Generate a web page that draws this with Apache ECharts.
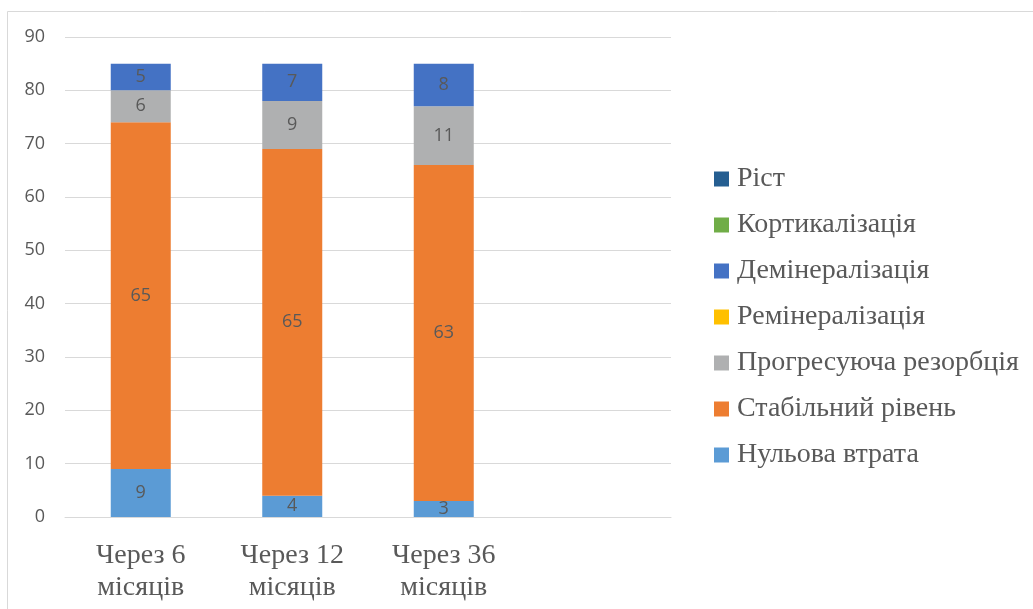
<!DOCTYPE html>
<html>
<head>
<meta charset="utf-8">
<script src="https://cdn.jsdelivr.net/npm/echarts@6/dist/echarts.min.js"></script>
<style>html,body{margin:0;padding:0;background:#fff;}#c{width:1033px;height:609px;}</style>
</head>
<body>
<div id="c"></div>
<script>
const categories = ['Через 6\nмісяців', 'Через 12\nмісяців', 'Через 36\nмісяців', ''];
const yTicks = [0, 10, 20, 30, 40, 50, 60, 70, 80, 90];
const nulova = [9, 4, 3, null];
const stabilnyi = [65, 65, 63, null];
const progresuyucha = [6, 9, 11, null];
const remineralizatsiya = [null, null, null, null];
const demineralizatsiya = [5, 7, 8, null];
const kortykalizatsiya = [null, null, null, null];
const rist = [null, null, null, null];

const seriesDefs = [
  { name: 'Нульова втрата', data: nulova, color: '#5B9BD5' },
  { name: 'Стабільний рівень', data: stabilnyi, color: '#ED7D31' },
  { name: 'Прогресуюча резорбція', data: progresuyucha, color: '#AFB0B1' },
  { name: 'Ремінералізація', data: remineralizatsiya, color: '#FFC000' },
  { name: 'Демінералізація', data: demineralizatsiya, color: '#4472C4' },
  { name: 'Кортикалізація', data: kortykalizatsiya, color: '#70AD47' },
  { name: 'Ріст', data: rist, color: '#255E91' }
];

const chart = echarts.init(document.getElementById('c'), null, { renderer: 'canvas' });
chart.setOption({
  animation: false,
  backgroundColor: '#fff',
  graphic: [{
    type: 'rect', silent: true, z: -1,
    shape: { x: 7.5, y: 11.5, width: 1100, height: 700 },
    style: { fill: 'none', stroke: '#D9D9D9', lineWidth: 1 }
  }],
  grid: { left: 65, right: 1033 - 671, top: 37, bottom: 92, containLabel: false },
  legend: {
    orient: 'vertical',
    left: 709,
    top: 160,
    itemWidth: 15,
    itemHeight: 15,
    itemGap: 18,
    icon: 'rect',
    data: seriesDefs.map(s => s.name).reverse(),
    textStyle: { fontFamily: 'Liberation Serif', fontSize: 28, color: '#595959', lineHeight: 28, padding: [0, 0, 0, 3] }
  },
  xAxis: {
    type: 'category',
    data: categories,
    axisLine: { lineStyle: { color: '#D9D9D9', width: 1 } },
    axisTick: { show: false },
    axisLabel: { fontFamily: 'Liberation Serif', fontSize: 28, color: '#595959', lineHeight: 32, margin: 23, interval: 0 }
  },
  yAxis: {
    type: 'value',
    min: yTicks[0],
    max: yTicks[yTicks.length - 1],
    interval: 10,
    axisLine: { show: false },
    axisTick: { show: false },
    splitLine: { lineStyle: { color: '#D9D9D9', width: 1 } },
    axisLabel: { fontFamily: 'Open Sans', fontSize: 18, color: '#595959', margin: 20 }
  },
  series: seriesDefs.map(s => ({
    name: s.name,
    type: 'bar',
    stack: 'total',
    data: s.data,
    barWidth: 60,
    itemStyle: { color: s.color },
    label: {
      show: true,
      position: 'inside',
      fontFamily: 'Open Sans',
      fontSize: 18,
      color: '#595959',
      formatter: p => (p.value == null || p.value === 0) ? '' : String(p.value)
    }
  }))
});
</script>
</body>
</html>
